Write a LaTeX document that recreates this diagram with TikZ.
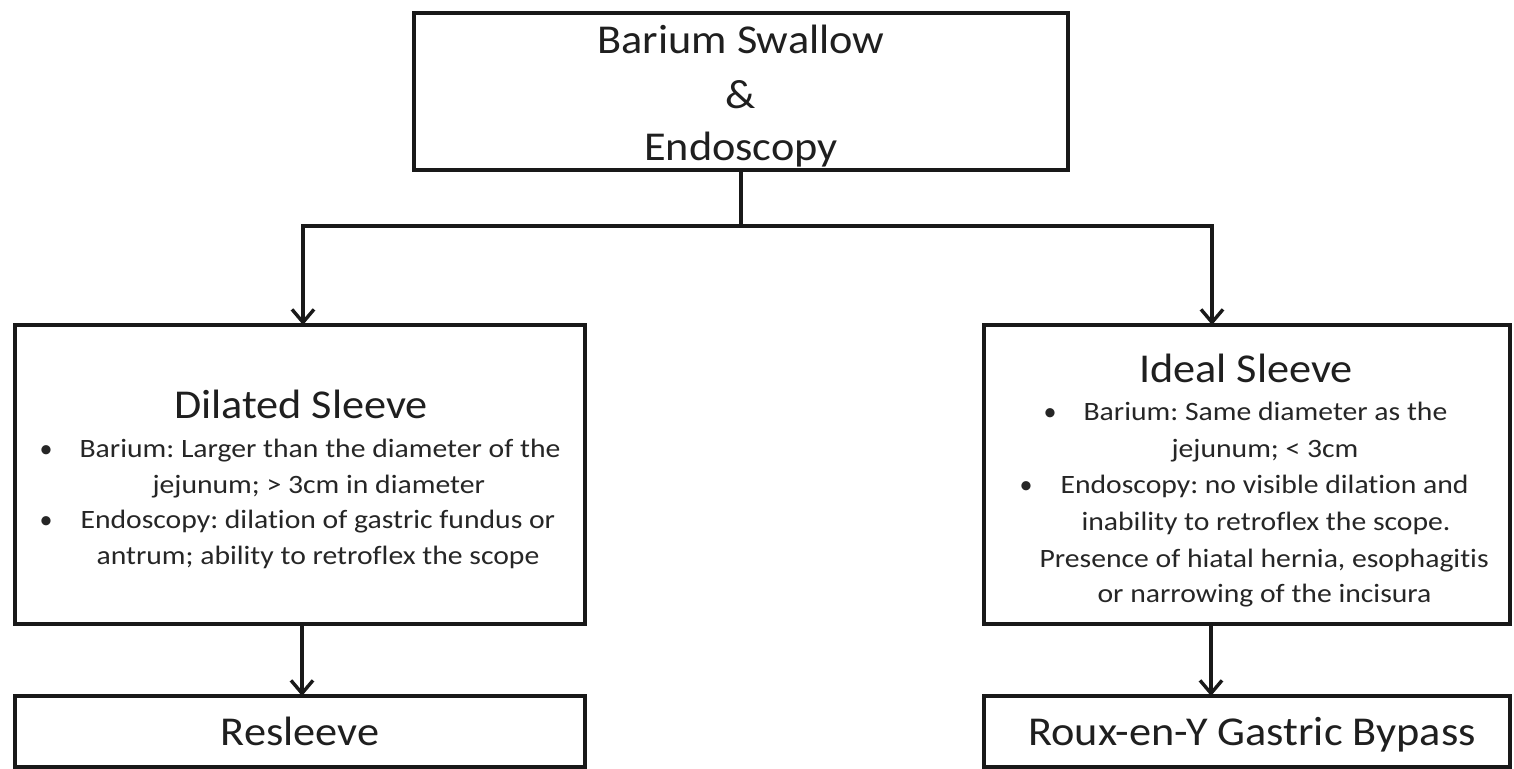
\documentclass[tikz,border=0pt]{standalone}
\usepackage{fontspec}
\setmainfont{Carlito}[Ligatures=NoCommon]
\newfontfamily\bodyfont[FakeStretch=1.12,Ligatures=NoCommon]{Carlito}
\newfontfamily\headfont[FakeStretch=1.08,Ligatures=NoCommon]{Carlito}
\usetikzlibrary{arrows.meta}
\frenchspacing
\begin{document}
\begin{tikzpicture}[x=1pt,y=-1pt,
  box/.style={draw=black!90, line width=4.2pt, rectangle, inner sep=0pt, outer sep=0pt, anchor=north west},
  conn/.style={line width=3.4pt, draw=black!90},
  arr/.style={conn, -{Straight Barb[length=13pt,width=22pt,line width=3.4pt]}},
  head/.style={font=\headfont\fontsize{41}{54}\selectfont, anchor=base, text=black!88},
  item/.style={font=\bodyfont\fontsize{26.5}{36}\selectfont, anchor=base west, text=black!85},
  bul/.style={font=\fontsize{26}{36}\selectfont, anchor=base, text=black!85}]
\useasboundingbox (0,0) rectangle (1514,768);
\fill[white] (0,0) rectangle (1514,768);

% boxes
\node[box, minimum width=654pt, minimum height=157pt] (top) at (414,13) {};
\node[box, minimum width=570pt, minimum height=299pt] (dil) at (15,325) {};
\node[box, minimum width=526pt, minimum height=299pt] (ide) at (984,325) {};
\node[box, minimum width=570pt, minimum height=71pt] (res) at (15,696) {};
\node[box, minimum width=526pt, minimum height=71pt] (rny) at (984,696) {};

% top text
\node[head] (t1) at (741,53) {Barium Swallow};
\node[head] (t2) at (741,108) {\&};
\node[head] (t3) at (741,160) {Endoscopy};

% dilated sleeve
\node[head] (dh) at (301,418) {Dilated Sleeve};
\node[bul] (db1) at (46,457) {•};
\node[item] (dl1) at (76,457) {Barium: Larger than the diameter of the};
\node[item] (dl2) at (149,493) {jejunum; > 3cm in diameter};
\node[bul] (db2) at (46,528) {•};
\node[item] (dl3) at (77,528) {Endoscopy: dilat\kern0pt ion of gastric fundus or};
\node[item] (dl4) at (93,564) {antrum; ability to retroflex the scope};

% ideal sleeve
\node[head] (ih) at (1246,382) {Ideal Sleeve};
\node[bul] (ib1) at (1050,420) {•};
\node[item] (il1) at (1080,420) {Barium: Same diameter as the};
\node[item] (il2) at (1168,457) {jejunum; < 3cm};
\node[bul] (ib2) at (1026,493) {•};
\node[item] (il3) at (1057,493) {Endoscopy: no visible dilat\kern0pt ion and};
\node[item] (il4) at (1078,530) {inability to retroflex the scope.};
\node[item] (il5) at (1036,567) {Presence of hiatal hernia, esophagit\kern0pt is};
\node[item] (il6) at (1094,602) {or narrowing of the incisura};

% bottom texts
\node[head] (rt) at (300,745) {Resleeve};
\node[head] (bt) at (1252,745) {Roux-en-Y Gastric Bypass};

% connectors
\coordinate (j) at (top.south |- 0,226);
\coordinate (jl) at (303,226);
\coordinate (jr) at (1212,226);
\draw[conn] (top.south) -- (j);
\draw[conn, line cap=rect] (jl) -- (jr);
\draw[arr] (jl) -- (jl |- dil.north);
\draw[arr] (jr) -- (jr |- ide.north);
\coordinate (bl) at (302,624);
\coordinate (br) at (1211,624);
\draw[arr] (bl) -- (bl |- res.north);
\draw[arr] (br) -- (br |- rny.north);
\end{tikzpicture}
\end{document}
